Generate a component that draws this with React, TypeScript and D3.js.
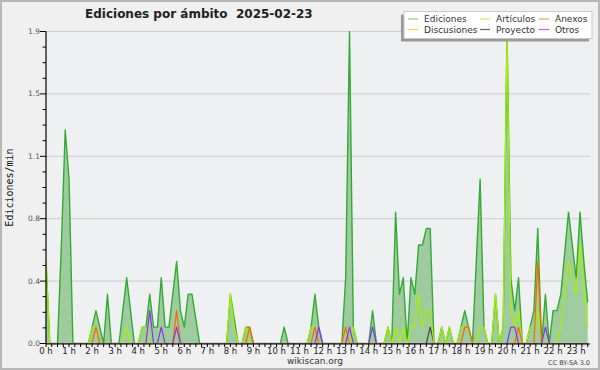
import * as d3 from 'd3'

// 10-minute bins, edits per minute
const binMinutes = d3.range(142).map((i) => i * 10)

const ediciones = [
  0.5, 0, 0, 0, 0.6, 1.3, 1.0, 0, 0, 0, 0, 0,
  0.1, 0.2, 0.1, 0, 0.3, 0, 0, 0, 0.2, 0.4, 0.2, 0,
  0, 0.1, 0.1, 0.3, 0.1, 0.1, 0.4, 0.1, 0.1, 0.3, 0.5, 0.2,
  0.1, 0.3, 0.3, 0.15, 0, 0, 0, 0, 0, 0, 0, 0,
  0.3, 0.15, 0, 0, 0.1, 0.1, 0, 0, 0, 0, 0, 0,
  0, 0, 0.1, 0, 0, 0, 0, 0, 0, 0.1, 0.3, 0.1,
  0, 0, 0, 0, 0, 0, 0.4, 1.9, 0.1, 0, 0, 0,
  0, 0.2, 0, 0, 0, 0.1, 0, 0.8, 0.3, 0.4, 0, 0.4,
  0.3, 0.6, 0.6, 0.7, 0.7, 0, 0, 0.1, 0, 0.1, 0, 0,
  0.1, 0.2, 0.1, 0, 0.5, 1.0, 0.1, 0, 0, 0.3, 0, 0.1,
  1.9, 0.4, 0.2, 0.4, 0, 0, 0.1, 0.2, 0.7, 0, 0.3, 0,
  0.2, 0.2, 0.3, 0.55, 0.8, 0.6, 0.4, 0.8, 0.5, 0.25,
]

const articulos = [
  0.5, 0, 0, 0, 0, 0, 0, 0, 0, 0, 0, 0,
  0.1, 0.1, 0, 0, 0, 0, 0, 0, 0, 0.1, 0, 0,
  0, 0.1, 0.1, 0, 0, 0, 0, 0, 0, 0, 0, 0,
  0, 0, 0, 0, 0, 0, 0, 0, 0, 0, 0, 0,
  0.3, 0.1, 0, 0, 0.1, 0, 0, 0, 0, 0, 0, 0,
  0, 0, 0, 0, 0, 0, 0, 0, 0, 0.1, 0.1, 0,
  0, 0, 0, 0, 0, 0, 0.1, 0, 0.1, 0, 0, 0,
  0, 0, 0, 0, 0, 0.1, 0, 0.1, 0, 0.1, 0, 0.1,
  0.1, 0.3, 0.1, 0.2, 0.2, 0, 0, 0.1, 0, 0.1, 0, 0,
  0.1, 0.1, 0.1, 0, 0, 0.1, 0.1, 0, 0, 0.3, 0, 0.1,
  1.9, 0.2, 0.1, 0.2, 0, 0, 0.1, 0.1, 0.2, 0, 0, 0,
  0, 0, 0.1, 0.3, 0.5, 0.4, 0.3, 0.6, 0.35, 0.1,
]

const anexos = [
  0, 0, 0, 0, 0, 0, 0, 0, 0, 0, 0, 0,
  0, 0.1, 0, 0, 0, 0, 0, 0, 0, 0, 0, 0,
  0, 0, 0, 0, 0, 0, 0, 0, 0, 0, 0.2, 0,
  0, 0, 0, 0, 0, 0, 0, 0, 0, 0, 0, 0,
  0, 0, 0, 0, 0, 0.1, 0, 0, 0, 0, 0, 0,
  0, 0, 0, 0, 0, 0, 0, 0, 0, 0, 0.1, 0,
  0, 0, 0, 0, 0, 0, 0.1, 0, 0, 0, 0, 0,
  0, 0, 0, 0, 0, 0, 0, 0, 0, 0, 0, 0,
  0, 0, 0, 0, 0, 0, 0, 0, 0, 0, 0, 0,
  0, 0.1, 0.1, 0, 0, 0, 0, 0, 0, 0, 0, 0,
  0, 0, 0, 0.1, 0, 0, 0, 0, 0.5, 0, 0, 0,
  0, 0, 0, 0, 0, 0, 0, 0, 0, 0,
]

const discusiones = [
  0, 0, 0, 0, 0, 0, 0, 0, 0, 0, 0, 0,
  0, 0, 0, 0, 0, 0, 0, 0, 0, 0, 0, 0,
  0, 0, 0, 0, 0, 0, 0, 0, 0, 0, 0, 0,
  0, 0, 0, 0, 0, 0, 0, 0, 0, 0, 0, 0,
  0, 0, 0, 0, 0, 0, 0, 0, 0, 0, 0, 0,
  0, 0, 0, 0, 0, 0, 0, 0, 0, 0, 0, 0,
  0, 0, 0, 0, 0, 0, 0, 0, 0, 0, 0, 0,
  0, 0, 0, 0, 0, 0, 0, 0, 0, 0, 0, 0,
  0, 0, 0, 0, 0, 0, 0, 0, 0, 0, 0, 0,
  0, 0, 0, 0, 0, 0, 0, 0, 0, 0, 0, 0,
  0, 0, 0, 0, 0, 0, 0, 0, 0, 0, 0, 0,
  0, 0, 0, 0, 0, 0, 0, 0, 0, 0,
]

const proyecto = [
  0, 0, 0, 0, 0, 0, 0, 0, 0, 0, 0, 0,
  0, 0, 0, 0, 0, 0, 0, 0, 0, 0, 0, 0,
  0, 0, 0, 0, 0, 0, 0, 0, 0, 0, 0, 0,
  0, 0, 0, 0, 0, 0, 0, 0, 0, 0, 0, 0,
  0, 0, 0, 0, 0, 0, 0, 0, 0, 0, 0, 0,
  0, 0, 0, 0, 0, 0, 0, 0, 0, 0, 0, 0,
  0, 0, 0, 0, 0, 0, 0, 0, 0, 0, 0, 0,
  0, 0, 0, 0, 0, 0, 0, 0, 0, 0, 0, 0,
  0, 0, 0, 0, 0.1, 0, 0, 0, 0, 0, 0, 0,
  0, 0, 0, 0, 0, 0, 0, 0, 0, 0, 0, 0,
  0, 0, 0, 0, 0, 0, 0, 0, 0, 0, 0, 0,
  0, 0, 0, 0, 0, 0, 0, 0, 0, 0,
]

const otros = [
  0, 0, 0, 0, 0, 0, 0, 0, 0, 0, 0, 0,
  0, 0, 0, 0, 0, 0, 0, 0, 0, 0, 0, 0,
  0, 0, 0, 0.2, 0, 0, 0.1, 0, 0, 0, 0.1, 0,
  0, 0, 0, 0, 0, 0, 0, 0, 0, 0, 0, 0,
  0, 0, 0, 0, 0, 0, 0, 0, 0, 0, 0, 0,
  0, 0, 0, 0, 0, 0, 0, 0, 0, 0, 0, 0.1,
  0, 0, 0, 0, 0, 0, 0, 0.1, 0, 0, 0, 0,
  0, 0.1, 0, 0, 0, 0, 0, 0, 0, 0, 0, 0,
  0, 0, 0, 0, 0, 0, 0, 0, 0, 0, 0, 0,
  0, 0, 0, 0, 0, 0, 0, 0, 0, 0, 0, 0,
  0, 0.1, 0.1, 0, 0, 0, 0, 0, 0, 0, 0.1, 0,
  0, 0, 0, 0, 0, 0, 0, 0, 0, 0,
]

const yTicks = [0, 0.38, 0.76, 1.14, 1.52, 1.9]
const yTickLabels = ['0.0', '0.4', '0.8', '1.1', '1.5', '1.9']
const hourLabels = [
  '0 h', '1 h', '2 h', '3 h', '4 h', '5 h', '6 h', '7 h', '8 h', '9 h', '10 h', '11 h',
  '12 h', '13 h', '14 h', '15 h', '16 h', '17 h', '18 h', '19 h', '20 h', '21 h', '22 h', '23 h',
]

const legendNames = ['Ediciones', 'Artículos', 'Anexos', 'Discusiones', 'Proyecto', 'Otros']
const legendColors = ['#88cc88', '#ccee55', '#ff9966', '#ffcc44', '#666666', '#aa66ee']

const W = 600
const H = 370
const left = 46
const right = 590
const top = 31.5
const bottom = 343.5

const x = d3.scaleLinear().domain([0, 1416]).range([left, right])
const y = d3.scaleLinear().domain([0, 1.9]).range([bottom, top])

const sans = 'DejaVu Sans, sans-serif'

function pathFor(values: number[]) {
  return (
    d3
      .line<number>()
      .x((_, i) => x(binMinutes[i]))
      .y((d) => y(d))(values) ?? ''
  )
}

export default function App() {
  const area = d3
    .area<number>()
    .x((_, i) => x(binMinutes[i]))
    .y0(bottom)
    .y1((d) => y(d))(ediciones) ?? ''

  const minorY = d3.range(21).map((k) => k * 0.095)
  const xTickMinutes = d3.range(0, 1416, 15)

  const overlay: [number[], string][] = [
    [discusiones, '#ffcc00'],
    [proyecto, '#444444'],
    [articulos, '#aaee00'],
    [anexos, '#ff6600'],
    [otros, '#8833ee'],
  ]

  return (
    <div style={{ position: 'fixed', left: 0, top: 0 }}>
      <svg width={W} height={H} style={{ display: 'block' }}>
        <defs>
          <clipPath id="plot">
            <rect x={left} y={top - 2} width={right - left} height={bottom - top + 2} />
          </clipPath>
        </defs>
        <rect x={0} y={0} width={W} height={H} fill="#f0f0f0" />
        <rect x={1} y={1} width={W - 2} height={H - 2} fill="none" stroke="#b8b8b8" strokeWidth={2} />
        <rect x={left} y={top} width={right - left} height={bottom - top} fill="#eff0f2" />

        {/* grid */}
        {yTicks.slice(1).map((t) => (
          <line key={t} x1={left} x2={right} y1={y(t)} y2={y(t)} stroke="#cccccc" strokeWidth={1} />
        ))}

        <g clipPath="url(#plot)">
          <path d={area} fill="#9fcc9f" />
          <path d={pathFor(ediciones)} fill="none" stroke="#33aa33" strokeWidth={1.4} strokeLinejoin="round" />
          {overlay.map(([vals, c], k) => (
            <path key={k} d={pathFor(vals)} fill="none" stroke={c} strokeWidth={1.2} strokeLinejoin="round" />
          ))}
        </g>

        {/* y axis */}
        <line x1={left} x2={left} y1={top} y2={bottom + 0.5} stroke="#000" strokeWidth={1.2} />
        {minorY.map((t, k) => (
          <line
            key={k}
            x1={k % 4 === 0 ? left - 6 : left - 3.5}
            x2={left}
            y1={y(t)}
            y2={y(t)}
            stroke="#000"
            strokeWidth={1}
          />
        ))}
        {yTicks.map((t, k) => (
          <text key={t} x={left - 6} y={y(t) + 2.5} textAnchor="end" fontFamily={sans} fontSize={7.5} fill="#555">
            {yTickLabels[k]}
          </text>
        ))}

        {/* x axis */}
        <line x1={left} x2={right} y1={bottom + 0.5} y2={bottom + 0.5} stroke="#000" strokeWidth={1.2} />
        {xTickMinutes.map((m) => (
          <line key={m} x1={x(m)} x2={x(m)} y1={bottom} y2={bottom + 3.5} stroke="#000" strokeWidth={1} />
        ))}
        {hourLabels.map((lab, h) => (
          <text key={lab} x={x(h * 60)} y={353.5} textAnchor="middle" fontFamily={sans} fontSize={8.5} fill="#222">
            {lab}
          </text>
        ))}

        <text
          transform={`translate(13,${(top + bottom) / 2}) rotate(-90)`}
          textAnchor="middle"
          fontFamily="DejaVu Sans Mono, monospace"
          fontSize={10}
          fill="#111"
        >
          Ediciones/min
        </text>

        <text x={85} y={18} fontFamily={sans} fontWeight="bold" fontSize={12} fill="#222" style={{ whiteSpace: 'pre' }}>
          {'Ediciones por ámbito  2025-02-23'}
        </text>

        {/* legend */}
        <rect x={401} y={14.5} width={188} height={27} fill="#999" />
        <rect x={404} y={11.5} width={188} height={27} fill="#fff" stroke="#c8c8c8" />
        {legendNames.map((name, k) => {
          const col = k % 3
          const row = Math.floor(k / 3)
          const lx = [408, 480, 539][col]
          const ly = row === 0 ? 19 : 29.5
          return (
            <g key={name}>
              <line x1={lx} x2={lx + 10} y1={ly} y2={ly} stroke={legendColors[k]} strokeWidth={1.2} />
              <text x={lx + 16} y={ly + 3.3} fontFamily={sans} fontSize={9} fill="#333">
                {name}
              </text>
            </g>
          )
        })}

        <text x={315} y={364} textAnchor="middle" fontFamily={sans} fontSize={9} fill="#333">
          wikiscan.org
        </text>
        <text x={590} y={365} textAnchor="end" fontFamily={sans} fontSize={6.5} fill="#444">
          CC BY-SA 3.0
        </text>
      </svg>
    </div>
  )
}
